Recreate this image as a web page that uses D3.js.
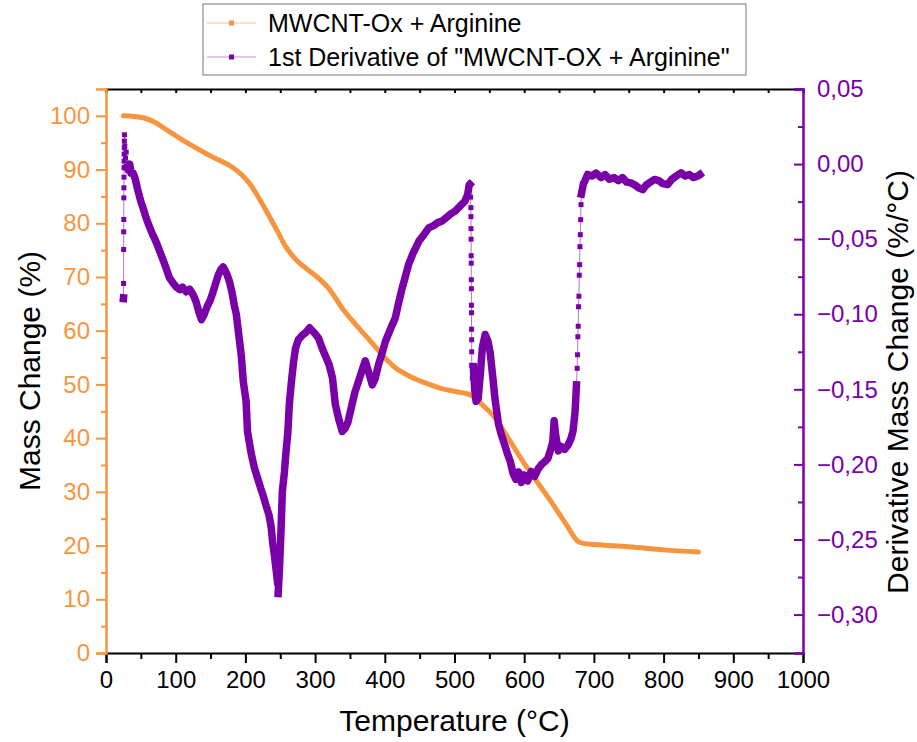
<!DOCTYPE html>
<html>
<head>
<meta charset="utf-8">
<script src="https://cdn.jsdelivr.net/npm/d3@7"></script>
<style>
	body { margin: 0; background: #fff; }
	text { font-family: Arial, "Liberation Sans", sans-serif; }
</style>
</head>
<body>
<div id="chart"></div>
<script>
// TGA curve: mass change (%) vs temperature (°C)
var massTemp = [25, 40, 55, 70, 87, 110, 130, 149, 165, 182, 195, 206, 218, 230, 244, 258, 272, 287, 303,
	320, 340, 358, 375, 391, 405, 415, 430, 444, 460, 477, 500, 520, 528, 540, 558, 577, 601, 620, 640,
	660, 677, 685, 700, 750, 800, 850];
var massValue = [100, 99.9, 99.6, 98.8, 97.4, 95.5, 94, 92.6, 91.6, 90.4, 89, 87.4, 85, 82.3, 79, 75.6, 73.3,
	71.6, 70, 67.8, 64, 61.2, 58.7, 56.3, 54.3, 53.1, 51.9, 51.0, 50.2, 49.4, 48.7, 48.2, 47.6, 46.2, 43.8,
	40.0, 35.1, 31.6, 27.9, 24.0, 20.8, 20.4, 20.2, 19.8, 19.2, 18.8];

// 1st derivative (%/°C) vs temperature (°C)
var derivTemp = [25.0, 25.1, 25.2, 25.3, 25.4, 25.5, 25.6, 25.7, 25.8, 25.9, 26.0, 26.1, 26.2, 26.3, 26.5,
	27, 28, 29, 30, 32, 34, 36, 39, 42, 46, 50, 53, 57, 60, 63, 67, 72, 77, 82, 86,
	91, 96, 101, 106, 110, 115, 120, 125, 129, 133, 137, 141, 145, 149, 153, 157, 161, 165, 168, 171,
	174, 177, 181, 184, 187, 190, 194, 197, 201, 203, 208, 213, 218, 222, 225, 230, 234, 237, 239, 242,
	244, 246, 247, 249, 251, 253, 256, 258, 261, 263, 266, 269, 272, 276, 282, 287, 292, 296, 300, 305,
	310, 315, 320, 325, 329, 334, 339, 343, 347, 353, 357, 362, 367, 372, 377, 382, 386, 391, 396, 401,
	408, 415, 420, 425, 430, 434, 440, 449, 456, 463, 470, 476, 482, 490, 495, 501, 508, 515, 519, 521,
	522, 523,
	523.5, 523.6, 523.7, 523.8, 523.9, 524.0, 524.1, 524.2, 524.3, 524.4, 524.5, 524.6, 524.7, 524.8, 525.5,
	527, 529, 531, 534, 537, 540, 544, 548, 551, 555, 558, 563, 567, 572, 576, 580, 584, 588, 592, 596,
	600, 605, 610, 615, 620, 625, 630, 634, 638, 641, 643, 645, 649, 653, 658, 663, 667, 670, 673, 675,
	676, 676.5, 677, 677.5, 678, 678.5, 679, 679.5, 680, 680.5, 681, 681.5, 682,
	685, 687, 691, 697, 703, 710, 716, 722, 729, 735, 741, 747, 753, 759, 765, 770, 775, 781, 787, 793,
	799, 806, 812, 818, 825, 831, 837, 843, 849, 852];
var derivValue = [-0.0896, -0.0891, -0.0795, -0.0569, -0.0451, -0.0369, -0.0225, -0.0158, -0.0087, -0.0025,
	0.0020, 0.0067, 0.0109, 0.0153, 0.0195,
	0.012, 0.004, 0.008, -0.002, -0.004, 0.000, -0.006, -0.006, -0.010, -0.018,
	-0.025, -0.029, -0.035, -0.039, -0.0425, -0.047, -0.052, -0.058, -0.064, -0.069,
	-0.0758, -0.079, -0.082, -0.0836, -0.082, -0.085, -0.0833, -0.087, -0.0913, -0.098,
	-0.1036, -0.100, -0.095, -0.0913, -0.086, -0.080, -0.074, -0.070, -0.0685, -0.071,
	-0.074, -0.078, -0.086, -0.094, -0.100, -0.112, -0.127, -0.145, -0.158, -0.178,
	-0.192, -0.2025, -0.210, -0.216, -0.220, -0.228, -0.234, -0.242, -0.2513, -0.262,
	-0.270, -0.278, -0.286, -0.268, -0.245, -0.218, -0.205, -0.193, -0.178, -0.160,
	-0.145, -0.132, -0.1224, -0.117, -0.1138, -0.112, -0.109, -0.111, -0.113, -0.116,
	-0.1225, -0.128, -0.1335, -0.1425, -0.160, -0.170, -0.178, -0.176, -0.172, -0.160,
	-0.152, -0.145, -0.138, -0.131, -0.139, -0.147, -0.143, -0.1335, -0.126, -0.118,
	-0.110, -0.1025, -0.092, -0.0825, -0.074, -0.067, -0.060, -0.0513, -0.047, -0.0425,
	-0.041, -0.039, -0.038, -0.035, -0.033, -0.0313, -0.028, -0.0247, -0.020, -0.014,
	-0.0135, -0.022,
	-0.029, -0.035, -0.043, -0.050, -0.061, -0.066, -0.077, -0.083, -0.094, -0.099, -0.110, -0.117, -0.125,
	-0.134, -0.1425,
	-0.135, -0.150, -0.158, -0.156, -0.140, -0.122, -0.1135, -0.118, -0.125, -0.142,
	-0.156, -0.173, -0.180, -0.187, -0.193, -0.198, -0.206, -0.210, -0.205, -0.212,
	-0.207, -0.211, -0.2047, -0.208, -0.203, -0.200, -0.198, -0.196, -0.190, -0.185,
	-0.171, -0.180, -0.191, -0.188, -0.190, -0.187, -0.183, -0.178, -0.165, -0.147,
	-0.136, -0.127, -0.115, -0.108, -0.095, -0.088, -0.074, -0.067, -0.055, -0.047, -0.037, -0.027, -0.020,
	-0.013, -0.0113, -0.0069, -0.008, -0.006, -0.009, -0.007, -0.010, -0.009, -0.011,
	-0.009, -0.012, -0.0125, -0.014, -0.016, -0.017, -0.014, -0.012, -0.0102, -0.011,
	-0.013, -0.0136, -0.010, -0.008, -0.0058, -0.008, -0.007, -0.009, -0.008, -0.007];

// tick values
var tempTicks = [0, 100, 200, 300, 400, 500, 600, 700, 800, 900, 1000];
var massTicks = [0, 10, 20, 30, 40, 50, 60, 70, 80, 90, 100];
var derivTicks = [-0.30, -0.25, -0.20, -0.15, -0.10, -0.05, 0.00, 0.05];

var seriesNames = ['MWCNT-Ox + Arginine', '1st Derivative of "MWCNT-OX + Arginine"'];

var ORANGE = '#f7953f', PURPLE = '#7a00a8';
var W = 917, H = 742;
var margin = {left: 106, right: 114, top: 89, bottom: 89};
var width = W - margin.left - margin.right,
	height = H - margin.top - margin.bottom;

var x = d3.scaleLinear().domain([0, 1000]).range([0, width]);
var yMass = d3.scaleLinear().domain([0, 105]).range([height, 0]);
var yDeriv = d3.scaleLinear().domain([-0.3256, 0.05]).range([height, 0]);

// comma decimal + real minus sign for the right axis
var locale = d3.formatLocale({decimal: ',', thousands: '.', grouping: [3], currency: ['', ''], minus: '\u2212'});
var fmtDeriv = locale.format('.2f');

var TICK_FONT = 24, TITLE_FONT = 30;

var svg = d3.select('#chart').append('svg')
	.attr('width', W).attr('height', H);
var g = svg.append('g')
	.attr('transform', 'translate(' + margin.left + ',' + margin.top + ')');

// minor tick helper: draws ticks at given values without labels
function minor(axisFn, scale, vals, len) {
	return axisFn(scale).tickValues(vals).tickSize(len).tickFormat('');
}

function midpoints(arr) {
	var out = [];
	for (var i = 0; i < arr.length - 1; i++) out.push((arr[i] + arr[i + 1]) / 2);
	return out;
}

// ---- data: mass change (orange) ----
var mass = d3.zip(massTemp, massValue);
g.append('path')
	.attr('d', d3.line()
		.x(function (d) { return x(d[0]); })
		.y(function (d) { return yMass(d[1]); })
		.curve(d3.curveMonotoneX)(mass))
	.attr('fill', 'none')
	.attr('stroke', ORANGE)
	.attr('stroke-width', 5)
	.attr('stroke-linecap', 'round');

// ---- data: derivative (purple) ----
var deriv = d3.zip(derivTemp, derivValue).map(function (d) {
	return [x(d[0]), yDeriv(d[1])];
});

// thin connecting line
g.append('path')
	.attr('d', d3.line()(deriv))
	.attr('fill', 'none')
	.attr('stroke', PURPLE)
	.attr('stroke-opacity', 0.55)
	.attr('stroke-width', 1);

// dense parts look like a thick band; near-vertical jumps keep only thin line + markers
var runs = [], cur = [deriv[0]];
for (var i = 1; i < deriv.length; i++) {
	var dx = Math.abs(deriv[i][0] - deriv[i - 1][0]),
		dy = Math.abs(deriv[i][1] - deriv[i - 1][1]);
	if (dx < 1.2 && dy > 4) {
		runs.push(cur);
		cur = [deriv[i]];
	} else {
		cur.push(deriv[i]);
	}
}
runs.push(cur);

g.selectAll('path.band').data(runs.filter(function (r) { return r.length > 1; }))
	.enter().append('path')
	.attr('class', 'band')
	.attr('d', function (r) { return d3.line()(r); })
	.attr('fill', 'none')
	.attr('stroke', PURPLE)
	.attr('stroke-width', 7.5)
	.attr('stroke-linejoin', 'round')
	.attr('stroke-linecap', 'square');

g.selectAll('rect.pt').data(deriv)
	.enter().append('rect')
	.attr('class', 'pt')
	.attr('x', function (d) { return d[0] - 2.5; })
	.attr('y', function (d) { return d[1] - 2.5; })
	.attr('width', 5).attr('height', 5)
	.attr('fill', PURPLE);

// ---- axes ----
// top frame
var gTop = g.append('g')
	.call(d3.axisTop(x).tickValues(tempTicks.concat(midpoints(tempTicks))).tickSize(-4).tickFormat(''));
gTop.select('.domain').attr('stroke', '#000').attr('stroke-width', 2);
gTop.selectAll('.tick line').attr('stroke', '#000').attr('stroke-width', 2);

// bottom
var gX = g.append('g')
	.attr('transform', 'translate(0,' + height + ')')
	.call(d3.axisBottom(x).tickValues(tempTicks).tickSize(10).tickPadding(8).tickFormat(d3.format('d')));
g.append('g')
	.attr('transform', 'translate(0,' + height + ')')
	.call(minor(d3.axisBottom, x, midpoints(tempTicks), 6))
	.select('.domain').remove();
g.selectAll('.tick line').attr('stroke-width', 2);
gX.select('.domain').attr('stroke-width', 2);
gX.selectAll('text').attr('font-size', TICK_FONT).attr('fill', '#000');

// left (mass)
var gY = g.append('g')
	.call(d3.axisLeft(yMass).tickValues(massTicks).tickSize(10).tickPadding(6));
var gYm = g.append('g')
	.call(minor(d3.axisLeft, yMass, midpoints(massTicks), 5));
gYm.select('.domain').remove();
gY.select('.domain').attr('stroke', ORANGE).attr('stroke-width', 2.5);
[gY, gYm].forEach(function (a) {
	a.selectAll('.tick line').attr('stroke', ORANGE).attr('stroke-width', 2);
});
gY.selectAll('text').attr('font-size', TICK_FONT).attr('fill', ORANGE);

// right (derivative) - ticks point inward
var gY2 = g.append('g')
	.attr('transform', 'translate(' + width + ',0)')
	.call(d3.axisRight(yDeriv).tickValues(derivTicks).tickSize(-9).tickPadding(14).tickFormat(fmtDeriv));
var gY2m = g.append('g')
	.attr('transform', 'translate(' + width + ',0)')
	.call(minor(d3.axisRight, yDeriv, midpoints(derivTicks), -5));
gY2m.select('.domain').remove();
gY2.select('.domain').attr('stroke', PURPLE).attr('stroke-width', 2.5);
[gY2, gY2m].forEach(function (a) {
	a.selectAll('.tick line').attr('stroke', PURPLE).attr('stroke-width', 2);
});
gY2.selectAll('text').attr('font-size', TICK_FONT).attr('fill', PURPLE);

// axis titles
svg.append('text')
	.attr('x', margin.left + width / 2).attr('y', 731)
	.attr('text-anchor', 'middle').attr('font-size', TITLE_FONT)
	.text('Temperature (\u00b0C)');
svg.append('text')
	.attr('transform', 'translate(40,' + (margin.top + height / 2) + ') rotate(-90)')
	.attr('text-anchor', 'middle').attr('font-size', TITLE_FONT)
	.text('Mass Change (%)');
svg.append('text')
	.attr('transform', 'translate(908,382) rotate(-90)')
	.attr('text-anchor', 'middle').attr('font-size', 30)
	.text('Derivative Mass Change (%/\u00b0C)');

// ---- legend ----
var legend = svg.append('g').attr('transform', 'translate(203,4)');
legend.append('rect')
	.attr('width', 543).attr('height', 71)
	.attr('fill', '#fff').attr('stroke', '#777').attr('stroke-width', 1);
var legendColors = [ORANGE, PURPLE];
var legendLight = ['#fbd7b5', '#d7b3ea'];
seriesNames.forEach(function (name, i) {
	var yy = 19 + i * 34;
	legend.append('line')
		.attr('x1', 4).attr('x2', 53).attr('y1', yy).attr('y2', yy)
		.attr('stroke', legendLight[i]).attr('stroke-width', 1.5);
	legend.append('rect')
		.attr('x', 26).attr('y', yy - 2.5).attr('width', 5).attr('height', 5)
		.attr('fill', legendColors[i]);
	legend.append('text')
		.attr('x', 65).attr('y', yy + 9)
		.attr('font-size', 25)
		.text(name);
});
</script>
</body>
</html>
